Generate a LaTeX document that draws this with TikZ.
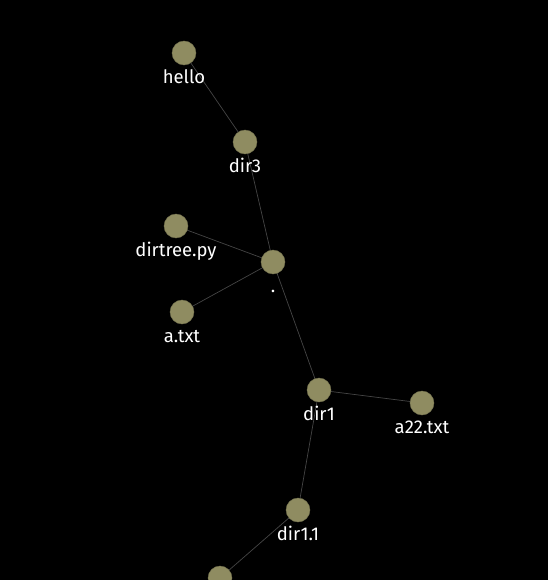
\documentclass[tikz,border=0pt]{standalone}
\usepackage{fontspec}
\setmainfont{Fira Sans}
\usetikzlibrary{arrows}
\definecolor{bgblack}{rgb}{0,0,0}
\definecolor{nodeolive}{rgb}{0.56,0.55,0.38}
\definecolor{edgegray}{rgb}{0.27,0.27,0.27}
\pgfdeclarelayer{bg}
\pgfdeclarelayer{edges}
\pgfsetlayers{bg,edges,main}

\begin{document}
\begin{tikzpicture}[line cap=round,line join=round,x=1pt,y=-1pt,
  leaf/.style={circle,fill=nodeolive,draw=nodeolive!80!black,line width=0.4pt,minimum size=24pt,inner sep=0pt},
  lbl/.style={text=white,font=\fontsize{18.5}{22}\selectfont,inner sep=1pt,text height=13pt,text depth=4pt,label distance=4pt},
  link/.style={color=edgegray,line width=0.7pt}]
\begin{pgfonlayer}{bg}
\fill[color=bgblack] (0,0) rectangle (548,580);
\end{pgfonlayer}
\useasboundingbox (0,0) rectangle (548,580);
\clip (0,0) rectangle (548,580);
\node[leaf,label={[lbl]below:hello}] (hello) at (184,53) {};
\node[leaf,label={[lbl]below:dir3}] (dir3) at (245,142) {};
\node[leaf,label={[lbl]below:dirtree.py}] (dirtree) at (176,226) {};
\node[leaf,label={[lbl]below:.}] (root) at (273,262) {};
\node[leaf,label={[lbl]below:a.txt}] (atxt) at (182,312) {};
\node[leaf,label={[lbl]below:dir1}] (dir1) at (319,390) {};
\node[leaf,label={[lbl]below:a22.txt}] (atwotwo) at (422,403) {};
\node[leaf,label={[lbl]below:dir1.1}] (dironeone) at (298,510) {};
\node[leaf] (deep) at (220,578) {};
\begin{pgfonlayer}{edges}
\draw[link] (hello.center) -- (dir3.center);
\draw[link] (dir3.center) -- (root.center);
\draw[link] (dirtree.center) -- (root.center);
\draw[link] (atxt.center) -- (root.center);
\draw[link] (root.center) -- (dir1.center);
\draw[link] (dir1.center) -- (atwotwo.center);
\draw[link] (dir1.center) -- (dironeone.center);
\draw[link] (dironeone.center) -- (deep.center);
\end{pgfonlayer}
\end{tikzpicture}
\end{document}
